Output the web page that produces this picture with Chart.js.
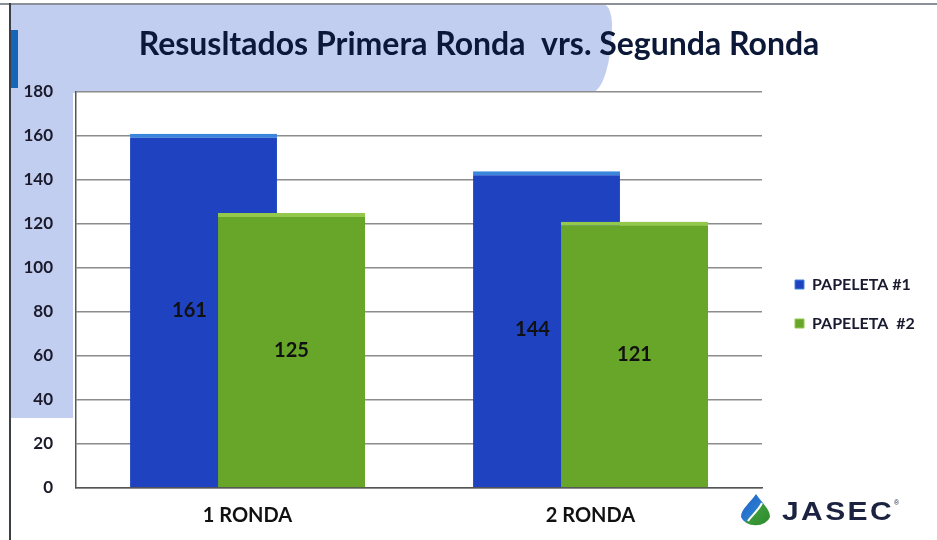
<!DOCTYPE html>
<html>
<head>
<meta charset="utf-8">
<script src="https://cdn.jsdelivr.net/npm/chart.js@4.4.1/dist/chart.umd.min.js"></script>
<style>
html,body{margin:0;padding:0;background:#fff;}
#wrap{position:relative;width:937px;height:540px;overflow:hidden;background:#fff;}
#bandTop{position:absolute;left:10px;top:5px;width:602px;height:88px;background:#c2cef0;border-top-right-radius:8px 20px;border-bottom-right-radius:22px 70px;}
#bandLeft{position:absolute;left:10px;top:5px;width:63px;height:413px;background:#c2cef0;}
#mark{position:absolute;left:10px;top:30px;width:8px;height:58px;background:#1565b8;}
#lineTop{position:absolute;left:0;top:3px;width:937px;height:2px;background:#8a8f98;}
#lineLeft{position:absolute;left:9px;top:3px;width:2px;height:537px;background:#3a3f48;}
#plotBg{position:absolute;left:76px;top:92px;width:686px;height:396px;background:#fff;}
canvas{position:absolute;left:0;top:0;}
#logo{position:absolute;left:738px;top:493px;width:190px;height:36px;}
#logo svg{position:absolute;left:0;top:0;}
#logo .txt{position:absolute;left:44px;top:3px;font-family:"Liberation Sans",Arial,sans-serif;font-weight:bold;font-size:25px;letter-spacing:2px;color:#1b2340;transform:scaleX(1.2);transform-origin:left center;line-height:30px;}
#logo .reg{position:absolute;left:156px;top:6px;font-family:"Liberation Sans",Arial,sans-serif;font-size:7px;color:#1b2340;}
</style>
</head>
<body>
<div id="wrap">
  <div id="lineTop"></div>
  <div id="bandTop"></div>
  <div id="bandLeft"></div>
  <div id="mark"></div>
  <div id="lineLeft"></div>
  <div id="plotBg"></div>
  <canvas id="c" width="937" height="540"></canvas>
  <div id="logo">
    <svg width="34" height="36" viewBox="0 0 34 36">
      <defs>
        <linearGradient id="dg" x1="0" y1="0" x2="1" y2="1">
          <stop offset="0" stop-color="#1d5fc4"/>
          <stop offset="0.5" stop-color="#2a7ad0"/>
          <stop offset="0.55" stop-color="#3c9a3a"/>
          <stop offset="1" stop-color="#2e8a2c"/>
        </linearGradient>
      </defs>
      <path d="M18 1 C 24 10, 32 16, 32 24 A 15 11 0 0 1 3 24 C 3 16, 12 10, 18 1 Z" fill="url(#dg)"/>
      <path d="M10 28 C 14 22, 20 18, 24 10" stroke="#ffffff" stroke-width="2" fill="none"/>
    </svg>
    <div class="txt">JASEC</div>
    <div class="reg">®</div>
  </div>
</div>
<script>
// ---- data ----
const categories = ['1 RONDA', '2 RONDA'];
const seriesNames = ['PAPELETA #1', 'PAPELETA  #2'];
const papeleta1 = [161, 144];
const papeleta2 = [125, 121];
const yMin = 0, yMax = 180, yStep = 20;
const titleText = 'Resusltados Primera Ronda  vrs. Segunda Ronda';

// ---- style ----
const BLUE = '#1e42c0', BLUE_TOP = '#3a86dc';
const GREEN = '#68a62a', GREEN_TOP = '#93c84a';
const PLOT_RIGHT = 762, PLOT_TOP = 92;
const LEG_DX = 10, LEG_DY = 34;
let legendWidth = 175;

const onTopAndLabels = {
  id: 'onTopAndLabels',
  beforeLayout(chart) {
    const L = chart.legend;
    if (L && !L._fixedWidth) {
      const orig = L.fit.bind(L);
      L.fit = function () { orig(); this.width = legendWidth; };
      L._fixedWidth = true;
    }
  },
  afterLayout(chart) {
    const L = chart.legend;
    if (L) { L.left += LEG_DX; L.right += LEG_DX; L.top += LEG_DY; L.bottom += LEG_DY; }
  },
  afterDatasetsDraw(chart) {
    const ctx = chart.ctx;
    const ca = chart.chartArea;
    ctx.save();
    ctx.beginPath();
    ctx.rect(ca.left, ca.top, ca.right - ca.left, ca.bottom - ca.top);
    ctx.clip();
    // green series drawn in front of the blue one (overlapping bars)
    chart.getDatasetMeta(1).data.forEach(el => el.draw(ctx));
    ctx.restore();
    ctx.save();
    ctx.font = 'bold 20px Lato';
    ctx.fillStyle = '#111';
    ctx.textAlign = 'center';
    ctx.textBaseline = 'middle';
    chart.data.datasets.forEach((ds, i) => {
      chart.getDatasetMeta(i).data.forEach((bar, j) => {
        const x = bar.x + (i === 0 ? -14 : 0);
        const y = (bar.y + bar.base) / 2;
        ctx.fillText(String(ds.data[j]), x, y);
      });
    });
    ctx.restore();
  }
};

const tickFont = {family: 'Lato', size: 17, weight: 'bold'};

const chart = new Chart(document.getElementById('c'), {
  type: 'bar',
  data: {
    labels: categories,
    datasets: [
      {label: seriesNames[0], data: papeleta1, backgroundColor: BLUE, borderColor: BLUE_TOP,
       borderWidth: {top: 4, left: 0, right: 0, bottom: 0}, borderSkipped: false},
      {label: seriesNames[1], data: papeleta2, backgroundColor: GREEN, borderColor: GREEN_TOP,
       borderWidth: {top: 4, left: 0, right: 0, bottom: 0}, borderSkipped: false}
    ]
  },
  options: {
    responsive: false,
    animation: false,
    events: [],
    datasets: {bar: {barPercentage: 1.67, categoryPercentage: 0.513}},
    layout: {padding: {left: 21, right: 0, top: 0, bottom: 0}},
    plugins: {
      title: {display: true, text: titleText, color: '#0c1838',
              font: {family: 'Lato', size: 32, weight: 'bold'}, padding: {top: 25, bottom: 28}},
      legend: {position: 'right',
               labels: {boxWidth: 9, boxHeight: 9, padding: 23, color: '#1a1a30',
                        font: {family: 'Lato', size: 16, weight: 'bold'}}},
      tooltip: {enabled: false}
    },
    scales: {
      x: {
        grid: {display: false, drawTicks: false},
        border: {display: true, color: '#555', width: 1.5},
        ticks: {padding: 16, color: '#111', font: {family: 'Lato', size: 20, weight: 'bold'}},
        afterFit(s) { s.height = 52; }
      },
      y: {
        min: yMin, max: yMax,
        ticks: {stepSize: yStep, padding: 23, color: '#1a1a2a', font: tickFont},
        grid: {color: '#8c8c8c', lineWidth: 1.5, drawTicks: false},
        border: {display: true, color: '#555', width: 1.5},
        afterFit(s) { s.width = 55; }
      }
    }
  },
  plugins: [onTopAndLabels]
});

for (let k = 0; k < 3; k++) {
  const ca = chart.chartArea;
  const dr = ca.right - PLOT_RIGHT;
  const dt = ca.top - PLOT_TOP;
  if (Math.abs(dr) < 0.5 && Math.abs(dt) < 0.5) break;
  legendWidth += dr;
  chart.options.plugins.title.padding.bottom -= dt;
  chart.update();
}
</script>
</body>
</html>
